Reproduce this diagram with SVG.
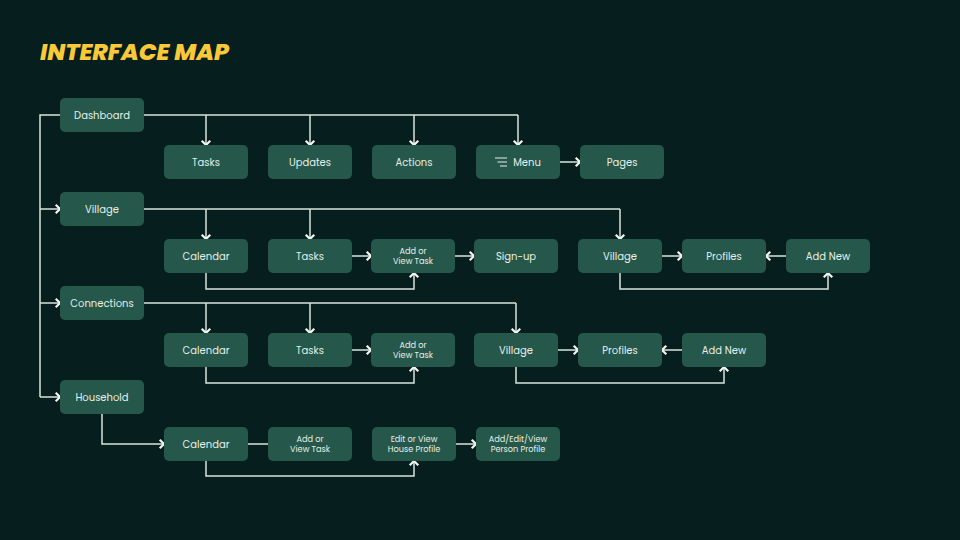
<svg xmlns="http://www.w3.org/2000/svg" width="960" height="540" viewBox="0 0 960 540">
<defs>
<marker id="chev" viewBox="-6 -6 8 12" markerWidth="8" markerHeight="12" refX="0" refY="0" orient="auto" markerUnits="userSpaceOnUse">
<path d="M-3.5,-3.5 L0,0 L-3.5,3.5" fill="none" stroke="#f2f6f1" stroke-width="2.2" stroke-linecap="square"/>
</marker>
<style>
.n rect{fill:#25574a;}
.n text{fill:#e6efe8;font-family:Poppins,"Inter","Open Sans",sans-serif;font-size:10px;text-anchor:middle;dominant-baseline:central;}
.n text.s{font-size:8.2px;}
.c path{fill:none;stroke:#d9e6dc;stroke-width:1.5;}
.c path.a{marker-end:url(#chev);}
</style>
</defs>
<rect width="960" height="540" fill="#071e1f"/>
<text x="40" y="60" font-family="Poppins,'Open Sans',sans-serif" font-size="23.5" font-weight="800" font-style="italic" fill="#f9c93a">INTERFACE MAP</text>

<g class="c" id="connectors">
<path d="M60,115 H40 V397"/>
<path class="a" d="M40,209 H60"/>
<path class="a" d="M40,303 H60"/>
<path class="a" d="M40,397 H60"/>
<path d="M144,115 H518"/>
<path class="a" d="M206,115 V145"/>
<path class="a" d="M310,115 V145"/>
<path class="a" d="M414,115 V145"/>
<path class="a" d="M518,115 V145"/>
<path class="a" d="M560,162 H580"/>
<path d="M144,209 H620"/>
<path class="a" d="M206,209 V239"/>
<path class="a" d="M310,209 V239"/>
<path class="a" d="M620,209 V239"/>
<path class="a" d="M352,256 H371"/>
<path class="a" d="M455,256 H474"/>
<path class="a" d="M662,256 H682"/>
<path class="a" d="M786,256 H766"/>
<path class="a" d="M206,273 V289 H414 V273"/>
<path class="a" d="M620,273 V289 H828 V273"/>
<path d="M144,303 H516"/>
<path class="a" d="M206,303 V333"/>
<path class="a" d="M310,303 V333"/>
<path class="a" d="M516,303 V333"/>
<path class="a" d="M352,350 H371"/>
<path class="a" d="M558,350 H578"/>
<path class="a" d="M682,350 H662"/>
<path class="a" d="M206,367 V383 H414 V367"/>
<path class="a" d="M516,367 V383 H724 V367"/>
<path class="a" d="M102,414 V444 H164"/>
<path d="M248,444 H268"/>
<path class="a" d="M206,461 V476 H414 V461"/>
<path class="a" d="M456,444 H476"/>
</g>

<g id="dashboard" class="n"><rect x="60" y="98" width="84" height="34" rx="5"/><text x="102" y="115">Dashboard</text></g>
<g id="d-tasks" class="n"><rect x="164" y="145" width="84" height="34" rx="5"/><text x="206" y="162">Tasks</text></g>
<g id="d-updates" class="n"><rect x="268" y="145" width="84" height="34" rx="5"/><text x="310" y="162">Updates</text></g>
<g id="d-actions" class="n"><rect x="372" y="145" width="84" height="34" rx="5"/><text x="414" y="162">Actions</text></g>
<g id="d-menu" class="n"><rect x="476" y="145" width="84" height="34" rx="5"/>
<path d="M495,158 H507 M497.5,162 H507 M500,166 H507" stroke="#e6efe8" stroke-width="1.2" fill="none"/>
<text x="527" y="162">Menu</text></g>
<g id="d-pages" class="n"><rect x="580" y="145" width="84" height="34" rx="5"/><text x="622" y="162">Pages</text></g>

<g id="village" class="n"><rect x="60" y="192" width="84" height="34" rx="5"/><text x="102" y="209">Village</text></g>
<g id="v-calendar" class="n"><rect x="164" y="239" width="84" height="34" rx="5"/><text x="206" y="256">Calendar</text></g>
<g id="v-tasks" class="n"><rect x="268" y="239" width="84" height="34" rx="5"/><text x="310" y="256">Tasks</text></g>
<g id="v-addtask" class="n"><rect x="371" y="239" width="84" height="34" rx="5"/><text class="s" x="413" y="250.5">Add or</text><text class="s" x="413" y="261">View Task</text></g>
<g id="v-signup" class="n"><rect x="474" y="239" width="84" height="34" rx="5"/><text x="516" y="256">Sign-up</text></g>
<g id="v-village" class="n"><rect x="578" y="239" width="84" height="34" rx="5"/><text x="620" y="256">Village</text></g>
<g id="v-profiles" class="n"><rect x="682" y="239" width="84" height="34" rx="5"/><text x="724" y="256">Profiles</text></g>
<g id="v-addnew" class="n"><rect x="786" y="239" width="84" height="34" rx="5"/><text x="828" y="256">Add New</text></g>

<g id="connections" class="n"><rect x="60" y="286" width="84" height="34" rx="5"/><text x="102" y="303">Connections</text></g>
<g id="c-calendar" class="n"><rect x="164" y="333" width="84" height="34" rx="5"/><text x="206" y="350">Calendar</text></g>
<g id="c-tasks" class="n"><rect x="268" y="333" width="84" height="34" rx="5"/><text x="310" y="350">Tasks</text></g>
<g id="c-addtask" class="n"><rect x="371" y="333" width="84" height="34" rx="5"/><text class="s" x="413" y="344.5">Add or</text><text class="s" x="413" y="355">View Task</text></g>
<g id="c-village" class="n"><rect x="474" y="333" width="84" height="34" rx="5"/><text x="516" y="350">Village</text></g>
<g id="c-profiles" class="n"><rect x="578" y="333" width="84" height="34" rx="5"/><text x="620" y="350">Profiles</text></g>
<g id="c-addnew" class="n"><rect x="682" y="333" width="84" height="34" rx="5"/><text x="724" y="350">Add New</text></g>

<g id="household" class="n"><rect x="60" y="380" width="84" height="34" rx="5"/><text x="102" y="397">Household</text></g>
<g id="h-calendar" class="n"><rect x="164" y="427" width="84" height="34" rx="5"/><text x="206" y="444">Calendar</text></g>
<g id="h-addtask" class="n"><rect x="268" y="427" width="84" height="34" rx="5"/><text class="s" x="310" y="438.5">Add or</text><text class="s" x="310" y="449">View Task</text></g>
<g id="h-house" class="n"><rect x="372" y="427" width="84" height="34" rx="5"/><text class="s" x="414" y="438.5">Edit or View</text><text class="s" x="414" y="449">House Profile</text></g>
<g id="h-person" class="n"><rect x="476" y="427" width="84" height="34" rx="5"/><text class="s" x="518" y="438.5">Add/Edit/View</text><text class="s" x="518" y="449">Person Profile</text></g>
</svg>
